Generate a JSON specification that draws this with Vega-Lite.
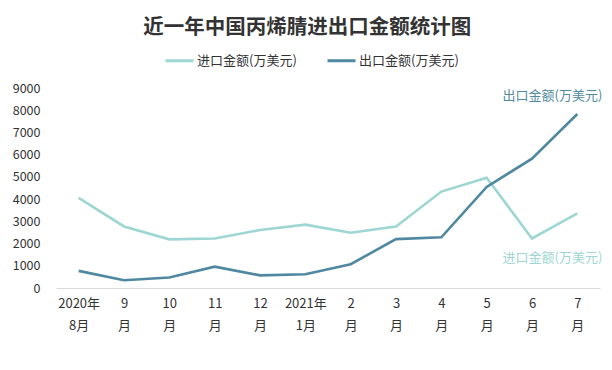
{
  "$schema": "https://vega.github.io/schema/vega-lite/v6.json",
  "width": 612,
  "height": 370,
  "autosize": {"type": "fit", "contains": "padding"},
  "padding": {"left": 12, "right": 12, "top": 17, "bottom": 38},
  "background": "white",
  "title": {
    "text": "近一年中国丙烯腈进出口金额统计图",
    "fontSize": 20.5,
    "font": "Noto Sans CJK SC",
    "fontWeight": "bold",
    "color": "#333333",
    "anchor": "middle",
    "frame": "bounds",
    "offset": 44
  },
  "data": {
    "values": [
      {"month": "2020年|8月", "series": "进口金额(万美元)", "value": 4060},
      {"month": "9|月", "series": "进口金额(万美元)", "value": 2770},
      {"month": "10|月", "series": "进口金额(万美元)", "value": 2190},
      {"month": "11|月", "series": "进口金额(万美元)", "value": 2230},
      {"month": "12|月", "series": "进口金额(万美元)", "value": 2610},
      {"month": "2021年|1月", "series": "进口金额(万美元)", "value": 2850},
      {"month": "2|月", "series": "进口金额(万美元)", "value": 2490},
      {"month": "3|月", "series": "进口金额(万美元)", "value": 2770},
      {"month": "4|月", "series": "进口金额(万美元)", "value": 4340},
      {"month": "5|月", "series": "进口金额(万美元)", "value": 4960},
      {"month": "6|月", "series": "进口金额(万美元)", "value": 2230},
      {"month": "7|月", "series": "进口金额(万美元)", "value": 3360},
      {"month": "2020年|8月", "series": "出口金额(万美元)", "value": 770},
      {"month": "9|月", "series": "出口金额(万美元)", "value": 350},
      {"month": "10|月", "series": "出口金额(万美元)", "value": 470},
      {"month": "11|月", "series": "出口金额(万美元)", "value": 960},
      {"month": "12|月", "series": "出口金额(万美元)", "value": 570},
      {"month": "2021年|1月", "series": "出口金额(万美元)", "value": 620},
      {"month": "2|月", "series": "出口金额(万美元)", "value": 1070},
      {"month": "3|月", "series": "出口金额(万美元)", "value": 2200},
      {"month": "4|月", "series": "出口金额(万美元)", "value": 2280},
      {"month": "5|月", "series": "出口金额(万美元)", "value": 4550},
      {"month": "6|月", "series": "出口金额(万美元)", "value": 5820},
      {"month": "7|月", "series": "出口金额(万美元)", "value": 7830}
    ]
  },
  "encoding": {
    "x": {
      "field": "month",
      "type": "nominal",
      "sort": null,
      "axis": {
        "title": null,
        "labelAngle": 0,
        "labelExpr": "split(datum.value, '|')",
        "labelFontSize": 13,
        "labelLineHeight": 22,
        "labelColor": "#333333",
        "labelPadding": 9,
        "ticks": false,
        "domainColor": "#d9d9d9",
        "grid": false
      }
    },
    "y": {
      "field": "value",
      "type": "quantitative",
      "scale": {"domain": [0, 9000]},
      "axis": {
        "title": null,
        "values": [0, 1000, 2000, 3000, 4000, 5000, 6000, 7000, 8000, 9000],
        "format": "d",
        "grid": false,
        "domain": false,
        "ticks": false,
        "labelPadding": 16,
        "labelFontSize": 12.5,
        "labelColor": "#333333"
      }
    }
  },
  "layer": [
    {
      "mark": {"type": "line", "strokeWidth": 2.6},
      "encoding": {
        "color": {
          "field": "series",
          "type": "nominal",
          "scale": {
            "domain": ["进口金额(万美元)", "出口金额(万美元)"],
            "range": ["#9dd6d3", "#4f88a0"]
          },
          "legend": {
            "title": null,
            "orient": "none",
            "legendX": 108,
            "legendY": -43,
            "direction": "horizontal",
            "symbolType": "stroke",
            "symbolStrokeWidth": 3,
            "symbolSize": 784,
            "labelFontSize": 13,
            "labelOffset": 2,
            "labelColor": "#333333",
            "columnPadding": 24
          }
        }
      }
    },
    {
      "transform": [{"filter": "datum.month == '7|月' && datum.series == '出口金额(万美元)'"}],
      "mark": {"type": "text", "align": "right", "baseline": "middle", "dx": 25, "dy": -18, "fontSize": 13, "color": "#4f88a0"},
      "encoding": {"text": {"field": "series"}}
    },
    {
      "transform": [{"filter": "datum.month == '7|月' && datum.series == '进口金额(万美元)'"}],
      "mark": {"type": "text", "align": "right", "baseline": "middle", "dx": 25, "dy": 45, "fontSize": 13, "color": "#9dd6d3"},
      "encoding": {"text": {"field": "series"}}
    }
  ],
  "config": {
    "view": {"stroke": null},
    "font": "Noto Sans CJK SC"
  }
}
